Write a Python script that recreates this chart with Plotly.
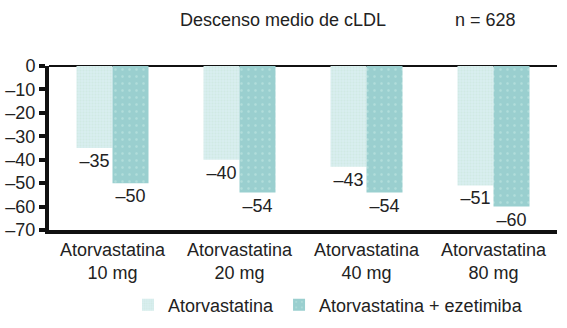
import plotly.graph_objects as go

categories = ["Atorvastatina<br>10 mg", "Atorvastatina<br>20 mg", "Atorvastatina<br>40 mg", "Atorvastatina<br>80 mg"]
atorva = [-35, -40, -43, -51]
atorva_eze = [-50, -54, -54, -60]
series_names = ["Atorvastatina", "Atorvastatina + ezetimiba"]
y_ticks = [0, -10, -20, -30, -40, -50, -60, -70]
y_tick_labels = ["0", "–10", "–20", "–30", "–40", "–50", "–60", "–70"]

FONT = "Liberation Sans"
FS = 18

def lbl(v):
    return "–" + str(abs(v)) if v < 0 else str(v)

fig = go.Figure()
fig.add_trace(go.Bar(
    x=categories, y=atorva, name=series_names[0],
    text=[lbl(v) for v in atorva], textposition="outside",
    textfont=dict(size=FS, color="#222"),
    marker=dict(color="#d9eef0", line=dict(width=0),
                pattern=dict(shape=".", fgcolor="#c8e6d8", size=3, solidity=0.4)),
    cliponaxis=False,
))
fig.add_trace(go.Bar(
    x=categories, y=atorva_eze, name=series_names[1],
    text=[lbl(v) for v in atorva_eze], textposition="outside",
    textfont=dict(size=FS, color="#222"),
    marker=dict(color="#9acfcf", line=dict(width=0),
                pattern=dict(shape=".", fgcolor="#c9ece6", size=7, solidity=0.1)),
    cliponaxis=False,
))

fig.update_layout(
    width=567, height=328,
    margin=dict(l=49, r=10, t=66, b=98, autoexpand=False),
    paper_bgcolor="white", plot_bgcolor="white",
    font=dict(family=FONT, size=FS, color="#222"),
    barmode="group", bargap=0.433, bargroupgap=0,
    showlegend=True,
    legend=dict(orientation="h", x=0.1555, y=-0.457, xanchor="left", yanchor="middle",
                font=dict(size=FS), tracegroupgap=0),
    xaxis=dict(showline=True, linecolor="#111", linewidth=4, ticks="", showgrid=False,
               tickfont=dict(size=FS)),
    yaxis=dict(range=[-70, 0], tickvals=y_ticks, ticktext=y_tick_labels,
               showline=True, linecolor="#111", linewidth=4, ticks="outside",
               ticklen=6, tickwidth=4, tickcolor="#111", showgrid=False,
               zeroline=True, zerolinecolor="#111", zerolinewidth=2,
               tickfont=dict(size=FS)),
    annotations=[
        dict(text="Descenso medio de cLDL", x=0.254, y=1.28, xref="paper", yref="paper",
             xanchor="left", yanchor="middle", showarrow=False, font=dict(size=FS)),
        dict(text="n = 628", x=0.795, y=1.28, xref="paper", yref="paper",
             xanchor="left", yanchor="middle", showarrow=False, font=dict(size=FS)),
    ],
)

fig.write_html("out.html", config={"displayModeBar": False},
               post_script="document.body.style.margin='0';")
